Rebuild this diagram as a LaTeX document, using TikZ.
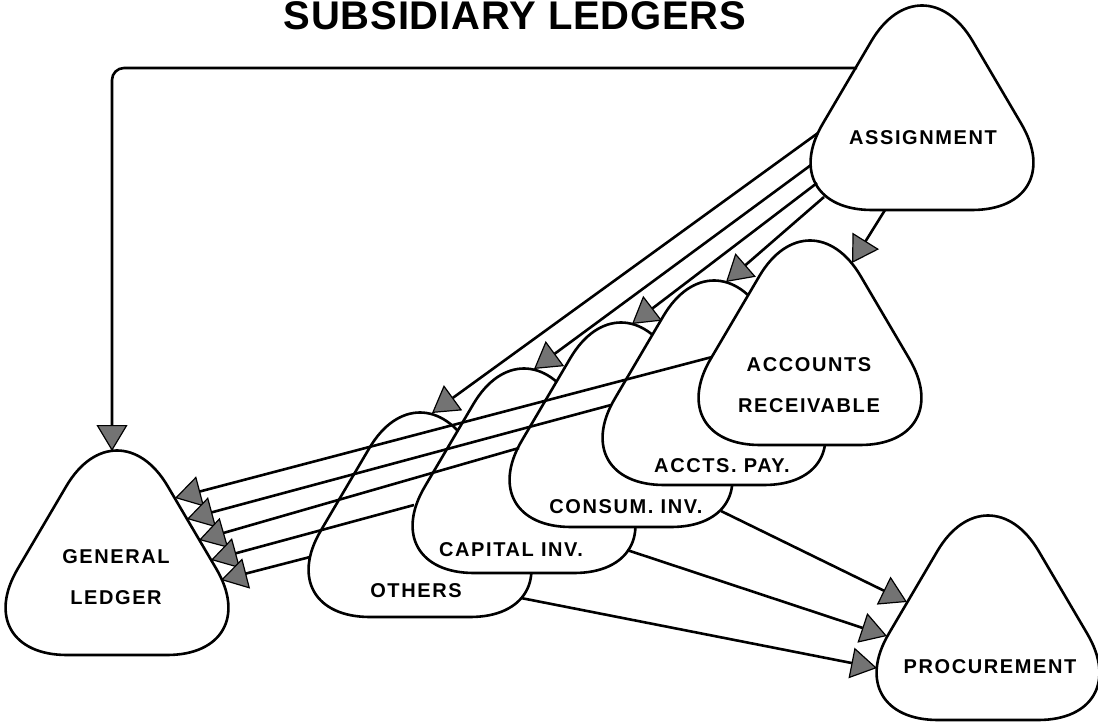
\documentclass[tikz,border=0pt]{standalone}
\usepackage{fontspec}
\setmainfont{Liberation Sans}
\newfontfamily\ledgerfont{Liberation Sans}[LetterSpace=8]
\newfontfamily\titlefont{Liberation Sans}[LetterSpace=2]
\usetikzlibrary{arrows.meta}

% rounded triangle, given the centre of its base
\newcommand{\ledgershape}[2]{%
  \draw[ledger] (#1,#2) -- (#1+150,#2) -- (#1,#2-255) -- (#1-150,#2) -- (#1,#2);}

\begin{document}
\begin{tikzpicture}[x=1pt,y=-1pt,
    ledger/.style={line width=2.6pt, fill=white, rounded corners=100pt},
    flow/.style={line width=2.6pt, -{Triangle[length=26pt,width=31pt,line width=1.2pt,fill=black!55]}},
    lbl/.style={font=\ledgerfont\bfseries\fontsize{20}{41}\selectfont, align=center, inner sep=0pt}]

    \useasboundingbox (0,0) rectangle (1098,725);

    % Title
    \node[anchor=base, font=\titlefont\bfseries\fontsize{40}{48}\selectfont] (title) at (515,30) {SUBSIDIARY LEDGERS};

    % Outer ledgers
    \ledgershape{117}{655}
    \ledgershape{922}{210}
    \ledgershape{988}{720}

    % Subsidiary stack, back to front
    \ledgershape{420}{617}
    \ledgershape{524}{573}
    \ledgershape{621}{527}
    \ledgershape{714}{485}
    \ledgershape{810}{445}

    % Labels
    \node[lbl] (asg) at (923,138) {ASSIGNMENT};
    \node[lbl] (gl) at (116,577) {GENERAL\\LEDGER};
    \node[lbl] (pro) at (990,667) {PROCUREMENT};
    \node[lbl] (ar) at (809,385) {ACCOUNTS\\RECEIVABLE};
    \node[lbl] (ap) at (722,466) {ACCTS. PAY.};
    \node[lbl] (ci) at (626,507) {CONSUM. INV.};
    \node[lbl] (cap) at (511,550) {CAPITAL INV.};
    \node[lbl] (oth) at (416,591) {OTHERS};

    % Connector ends on the outlines
    \coordinate (asg-w) at (857,68);
    \coordinate (asg-1) at (818,133);
    \coordinate (asg-2) at (811,165);
    \coordinate (asg-3) at (817,183);
    \coordinate (asg-4) at (824,197);
    \coordinate (asg-s) at (885,210);
    \coordinate (gl-n) at (112,451);
    \coordinate (oth-n) at (432,413);
    \coordinate (cap-n) at (534,369);
    \coordinate (ci-n) at (632,324);
    \coordinate (ap-n) at (726,282);
    \coordinate (ar-n) at (852,263);
    \coordinate (ar-w) at (712,357);
    \coordinate (ap-w) at (611,405);
    \coordinate (ci-w) at (519,448);
    \coordinate (cap-w) at (414,505);
    \coordinate (oth-w) at (310,557);
    \coordinate (gl-e1) at (175,498);
    \coordinate (gl-e2) at (187,519);
    \coordinate (gl-e3) at (199,540);
    \coordinate (gl-e4) at (211,560);
    \coordinate (gl-e5) at (221,580);
    \coordinate (ci-e) at (721,511);
    \coordinate (cap-e) at (627,550);
    \coordinate (oth-e) at (521,598);
    \coordinate (pro-w1) at (907,602);
    \coordinate (pro-w2) at (887,636);
    \coordinate (pro-w3) at (877,668);

    % Assignment to the ledgers
    \draw[flow, rounded corners=12pt] (asg-w) -| (gl-n);
    \draw[flow] (asg-1) -- (oth-n);
    \draw[flow] (asg-2) -- (cap-n);
    \draw[flow] (asg-3) -- (ci-n);
    \draw[flow] (asg-4) -- (ap-n);
    \draw[flow] (asg-s) -- (ar-n);

    % Posting to general ledger
    \draw[flow] (ar-w) -- (gl-e1);
    \draw[flow] (ap-w) -- (gl-e2);
    \draw[flow] (ci-w) -- (gl-e3);
    \draw[flow] (cap-w) -- (gl-e4);
    \draw[flow] (oth-w) -- (gl-e5);

    % Procurement
    \draw[flow] (ci-e) -- (pro-w1);
    \draw[flow] (cap-e) -- (pro-w2);
    \draw[flow] (oth-e) -- (pro-w3);

\end{tikzpicture}
\end{document}
